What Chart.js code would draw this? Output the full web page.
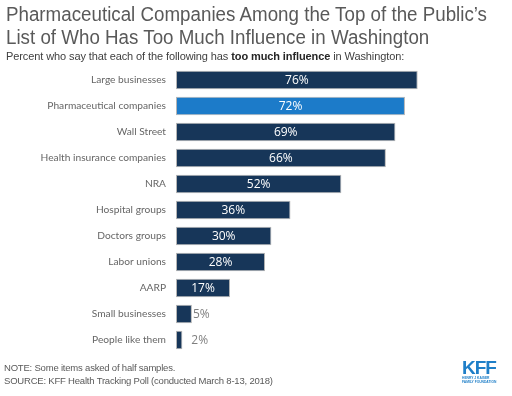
<!DOCTYPE html>
<html>
<head>
<meta charset="utf-8">
<script src="https://cdn.jsdelivr.net/npm/chart.js@4.4.1/dist/chart.umd.min.js"></script>
<style>
  html, body { margin:0; padding:0; background:#fff; }
  #wrap { position:relative; width:512px; height:396px; overflow:hidden; font-family:"Liberation Sans", Arial, sans-serif; color:#595959; }
  #title { position:absolute; left:6px; top:3px; font-size:20px; line-height:23px; white-space:nowrap; color:#595959; transform-origin:0 0; }
  #sub { position:absolute; left:6px; top:50px; font-size:11px; color:#404040; white-space:nowrap; letter-spacing:-0.1px; }
  #sub b { color:#262626; }
  #note { position:absolute; left:4px; top:361px; font-size:9.5px; line-height:13px; color:#595959; letter-spacing:-0.2px; white-space:nowrap; }
  #logo { position:absolute; left:462px; top:360px; width:40px; color:#1f7fc8; }
  #logo .k { font-family:"Liberation Sans", Arial, sans-serif; font-weight:bold; font-size:19px; line-height:16px; letter-spacing:-1px; }
  #logo .s { font-size:3.3px; line-height:4px; font-weight:bold; white-space:nowrap; }
  canvas { position:absolute; left:0; top:0; }
</style>
</head>
<body>
<div id="wrap">
  <canvas id="c" width="512" height="396"></canvas>
  <div id="title">Pharmaceutical Companies Among the Top of the Public’s<br>List of Who Has Too Much Influence in Washington</div>
  <div id="sub">Percent who say that each of the following has <b>too much influence</b> in Washington:</div>
  <div id="note">NOTE: Some items asked of half samples.<br>SOURCE: KFF Health Tracking Poll (conducted March 8-13, 2018)</div>
  <div id="logo"><div class="k">KFF</div><div class="s">HENRY J KAISER<br>FAMILY FOUNDATION</div></div>
</div>
<script>
const categories = ["Large businesses","Pharmaceutical companies","Wall Street","Health insurance companies","NRA","Hospital groups","Doctors groups","Labor unions","AARP","Small businesses","People like them"];
const values = [76,72,69,66,52,36,30,28,17,5,2];
const highlight = "Pharmaceutical companies";
const dark = "#173659";
const blue = "#1c7bc9";

// fit title line width to reference (~481px)
(function(){
  const t = document.getElementById('title');
  const w = t.getBoundingClientRect().width;
  if (w > 0) t.style.transform = 'scaleX(' + (481 / w) + ')';
})();

const labelPlugin = {
  id: 'valueLabels',
  afterDatasetsDraw(chart) {
    const ctx = chart.ctx;
    const meta = chart.getDatasetMeta(0);
    ctx.save();
    ctx.textBaseline = 'middle';
    meta.data.forEach((bar, i) => {
      const v = values[i];
      const txt = v + '%';
      ctx.font = '12px "Open Sans", sans-serif';
      if (v >= 10) {
        ctx.fillStyle = '#ffffff';
        ctx.textAlign = 'center';
        ctx.fillText(txt, (bar.x + bar.base) / 2, bar.y + 1);
      } else {
        ctx.fillStyle = '#7f7f7f';
        ctx.textAlign = 'left';
        ctx.fillText(txt, bar.x + (v < 3 ? 9 : 1), bar.y + 1);
      }
    });
    ctx.restore();
  }
};

new Chart(document.getElementById('c'), {
  type: 'bar',
  data: {
    labels: categories,
    datasets: [{
      data: values,
      backgroundColor: categories.map(c => c === highlight ? blue : dark),
      borderColor: '#b4b4b4',
      borderWidth: 1,
      borderSkipped: false,
      barPercentage: 0.72,
      categoryPercentage: 1.0
    }]
  },
  options: {
    indexAxis: 'y',
    responsive: false,
    animation: false,
    layout: { padding: { top: 67, bottom: 43, left: 0, right: 18 } },
    plugins: { legend: { display: false }, tooltip: { enabled: false }, title: { display: false } },
    scales: {
      x: { display: false, min: 0, max: 100 },
      y: {
        grid: { display: false, drawTicks: false },
        border: { display: false },
        ticks: { padding: 10, color: '#666666', font: { family: 'Lato, sans-serif', size: 10.2 } },
        afterFit: s => { s.width = 176; }
      }
    }
  },
  plugins: [labelPlugin]
});
</script>
</body>
</html>
